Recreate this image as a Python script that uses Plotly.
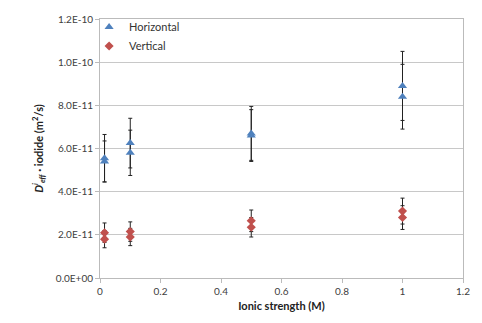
import plotly.graph_objects as go

# Data (ionic strength in M, diffusion coefficients in m2/s)
x_h = [0.015, 0.015, 0.1, 0.1, 0.5, 0.5, 1.0, 1.0]
y_h = [5.55e-11, 5.4e-11, 6.25e-11, 5.8e-11, 6.7e-11, 6.6e-11, 8.9e-11, 8.4e-11]
err_h = [1.1e-11, 0.95e-11, 1.15e-11, 1.05e-11, 1.25e-11, 1.2e-11, 1.6e-11, 1.5e-11]

x_v = [0.015, 0.015, 0.1, 0.1, 0.5, 0.5, 1.0, 1.0]
y_v = [2.1e-11, 1.8e-11, 2.15e-11, 1.9e-11, 2.65e-11, 2.35e-11, 3.1e-11, 2.8e-11]
err_v = [0.45e-11, 0.4e-11, 0.45e-11, 0.4e-11, 0.5e-11, 0.45e-11, 0.6e-11, 0.55e-11]

x_ticks = [0, 0.2, 0.4, 0.6, 0.8, 1.0, 1.2]
x_ticktext = ["0", "0.2", "0.4", "0.6", "0.8", "1", "1.2"]
y_ticks = [0, 2e-11, 4e-11, 6e-11, 8e-11, 1.0e-10, 1.2e-10]
y_ticktext = ["0.0E+00", "2.0E-11", "4.0E-11", "6.0E-11", "8.0E-11", "1.0E-10", "1.2E-10"]

FONT = "Lato, Open Sans, sans-serif"
err_style = dict(type="data", thickness=1, width=2, color="#222222")

fig = go.Figure()
fig.add_trace(go.Scatter(
    x=x_h, y=y_h, mode="markers", name="Horizontal",
    marker=dict(symbol="triangle-up", size=8, color="#4F81BD"),
    error_y=dict(array=err_h, **err_style),
))
fig.add_trace(go.Scatter(
    x=x_v, y=y_v, mode="markers", name="Vertical",
    marker=dict(symbol="diamond", size=7, color="#C0504D"),
    error_y=dict(array=err_v, **err_style),
))

fig.update_layout(
    width=482, height=323,
    margin=dict(l=100, r=12, t=14, b=40),
    paper_bgcolor="white", plot_bgcolor="white",
    font=dict(family=FONT, size=10, color="#404040"),
    showlegend=True,
    legend=dict(x=-0.03, y=1.025, xanchor="left", yanchor="top",
                bgcolor="rgba(0,0,0,0)", font=dict(size=11, color="#333333"),
                itemwidth=30, tracegroupgap=2),
    xaxis=dict(
        range=[0, 1.2], tickvals=x_ticks, ticktext=x_ticktext,
        showgrid=False, zeroline=False,
        showline=True, linecolor="#BBBBBB", linewidth=1, mirror=True,
        ticks="outside", ticklen=4, tickcolor="#BBBBBB",
        title=dict(text="<b>Ionic strength (M)</b>", font=dict(size=11, color="#222222"), standoff=6),
    ),
    yaxis=dict(
        range=[0, 1.2e-10], tickvals=y_ticks, ticktext=y_ticktext,
        showgrid=True, gridcolor="#C8C8C8", gridwidth=1, zeroline=False,
        showline=True, linecolor="#BBBBBB", linewidth=1, mirror=True,
        ticks="outside", ticklen=4, tickcolor="#BBBBBB",
        title=dict(text="<b><i>D</i><sup><i>i</i></sup><sub><i>eff</i></sub> · iodide (m<sup>2</sup>/s)</b>",
                   font=dict(size=11, color="#222222"), standoff=10),
    ),
)

fig.write_html("out.html")
